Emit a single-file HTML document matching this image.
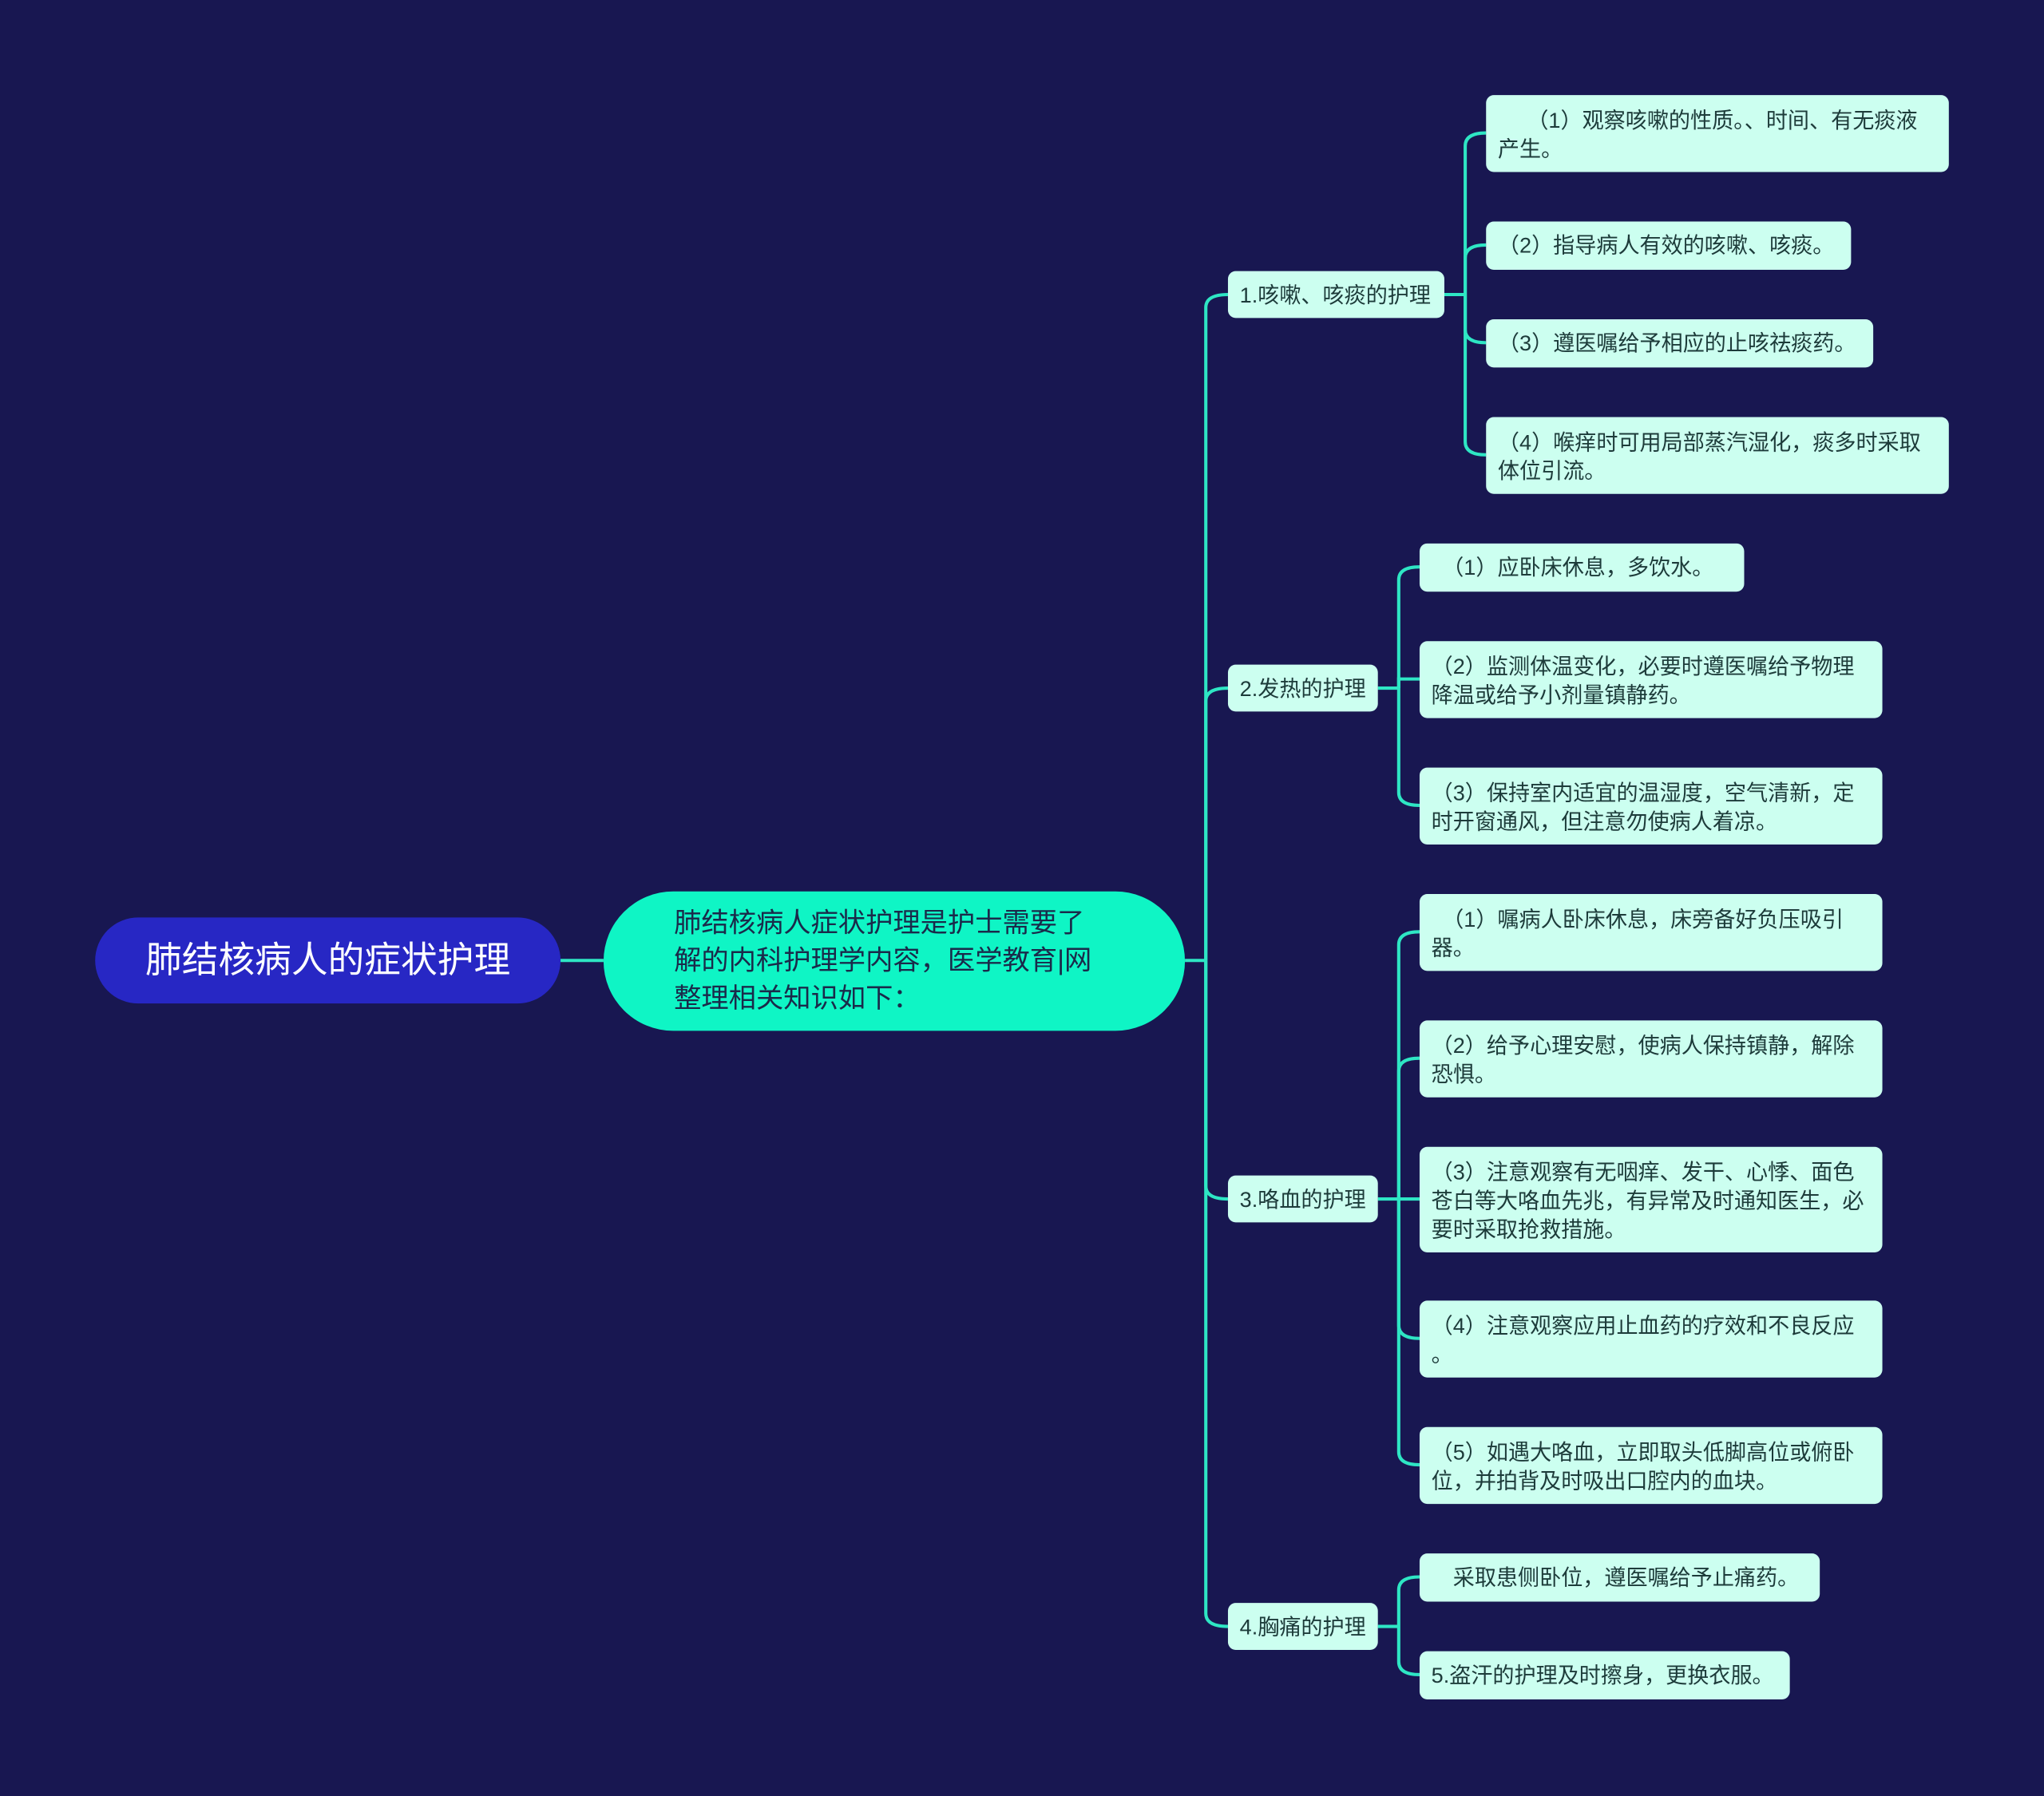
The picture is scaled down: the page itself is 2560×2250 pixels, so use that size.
<!DOCTYPE html>
<html><head><meta charset="utf-8"><style>
html,body{margin:0;padding:0;background:#181751;width:2560px;height:2249px;overflow:hidden}
#w{position:absolute;left:0;top:0;width:1568px;height:1378px;transform:scale(1.632653);transform-origin:0 0;font-family:"Liberation Sans","Noto Sans CJK SC",sans-serif}
.n{position:absolute;box-sizing:border-box;background:#ccfff0;color:#1d3b3a;border-radius:6px;font-size:16.6px;line-height:22px;padding:9px 8px 0 9px;}
svg{position:absolute;left:0;top:0}
</style></head><body><div id="w">
<svg width="1568" height="1378" fill="none" stroke="#2ee6c4" stroke-width="2.5">
<path d="M430 737 H463"/>
<path d="M909 737 H925"/>
<path d="M925 737 V236 Q925 226 942 226"/>
<path d="M925 737 V538 Q925 528 942 528"/>
<path d="M925 737 V910 Q925 920 942 920"/>
<path d="M925 737 V1238 Q925 1248 942 1248"/>
<path d="M1108 226 H1124"/>
<path d="M1124 226 V112 Q1124 102 1140 102"/>
<path d="M1124 226 V198 Q1124 188 1140 188"/>
<path d="M1124 226 V253 Q1124 263 1140 263"/>
<path d="M1124 226 V339 Q1124 349 1140 349"/>
<path d="M1057 528 H1073"/>
<path d="M1073 528 V445 Q1073 435 1089 435"/>
<path d="M1073 528 V521 H1089"/>
<path d="M1073 528 V608 Q1073 618 1089 618"/>
<path d="M1057 920 H1073"/>
<path d="M1073 920 V725 Q1073 715 1089 715"/>
<path d="M1073 920 V822 Q1073 812 1089 812"/>
<path d="M1073 920 H1089"/>
<path d="M1073 920 V1017 Q1073 1027 1089 1027"/>
<path d="M1073 920 V1114 Q1073 1124 1089 1124"/>
<path d="M1057 1248 H1073"/>
<path d="M1073 1248 V1220 Q1073 1210 1089 1210"/>
<path d="M1073 1248 V1275 Q1073 1285 1089 1285"/>
</svg>
<div style="position:absolute;left:73px;top:704px;width:357px;height:66px;border-radius:33px;background:#2727c4;color:#fff;font-size:28px;line-height:66px;text-align:center">肺结核病人的症状护理</div>
<div style="position:absolute;left:463px;top:684px;width:446px;height:107px;border-radius:54px;background:#0ff5c5;color:#1a2a4a;font-size:21px;line-height:29px;box-sizing:border-box;padding:10px 60px 0 54px">肺结核病人症状护理是护士需要了解的内科护理学内容，医学教育|网整理相关知识如下：</div>
<div class="n" style="left:942px;top:208px;width:166px;height:36px;padding-top:8px">1.咳嗽、咳痰的护理</div>
<div class="n" style="left:942px;top:510px;width:115px;height:36px;padding-top:8px">2.发热的护理</div>
<div class="n" style="left:942px;top:902px;width:115px;height:36px;padding-top:8px">3.咯血的护理</div>
<div class="n" style="left:942px;top:1230px;width:115px;height:36px;padding-top:8px">4.胸痛的护理</div>
<div class="n" style="left:1140px;top:73px;width:355px;height:59px;text-indent:14px">　（1）观察咳嗽的性质。、时间、有无痰液<br>产生。</div>
<div class="n" style="left:1140px;top:170px;width:280px;height:37px;padding-top:8px">（2）指导病人有效的咳嗽、咳痰。</div>
<div class="n" style="left:1140px;top:245px;width:297px;height:37px;padding-top:8px">（3）遵医嘱给予相应的止咳祛痰药。</div>
<div class="n" style="left:1140px;top:320px;width:355px;height:59px">（4）喉痒时可用局部蒸汽湿化，痰多时采取体位引流。</div>
<div class="n" style="left:1089px;top:417px;width:249px;height:37px;padding-top:8px">　（1）应卧床休息，多饮水。</div>
<div class="n" style="left:1089px;top:492px;width:355px;height:59px">（2）监测体温变化，必要时遵医嘱给予物理降温或给予小剂量镇静药。</div>
<div class="n" style="left:1089px;top:589px;width:355px;height:59px">（3）保持室内适宜的温湿度，空气清新，定时开窗通风，但注意勿使病人着凉。</div>
<div class="n" style="left:1089px;top:686px;width:355px;height:59px">　（1）嘱病人卧床休息，床旁备好负压吸引器。</div>
<div class="n" style="left:1089px;top:783px;width:355px;height:59px">（2）给予心理安慰，使病人保持镇静，解除恐惧。</div>
<div class="n" style="left:1089px;top:880px;width:355px;height:81px">（3）注意观察有无咽痒、发干、心悸、面色苍白等大咯血先兆，有异常及时通知医生，必要时采取抢救措施。</div>
<div class="n" style="left:1089px;top:998px;width:355px;height:59px">（4）注意观察应用止血药的疗效和不良反应<br>。</div>
<div class="n" style="left:1089px;top:1095px;width:355px;height:59px">（5）如遇大咯血，立即取头低脚高位或俯卧位，并拍背及时吸出口腔内的血块。</div>
<div class="n" style="left:1089px;top:1192px;width:307px;height:37px;padding-top:8px">　采取患侧卧位，遵医嘱给予止痛药。</div>
<div class="n" style="left:1089px;top:1267px;width:284px;height:37px;padding-top:8px">5.盗汗的护理及时擦身，更换衣服。</div>
</div></body></html>
